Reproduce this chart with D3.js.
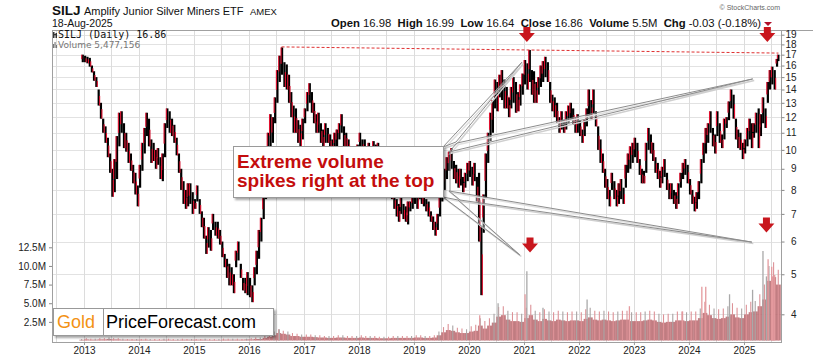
<!DOCTYPE html>
<html>
<head>
<meta charset="utf-8">
<script src="https://cdn.jsdelivr.net/npm/d3@7/dist/d3.min.js"></script>
<style>
  body { margin: 0; background: #fff; }
  svg { display: block; font-family: "Liberation Sans", Arial, sans-serif; }
</style>
</head>
<body>
<div id="chart"></div>
<script>
// half-month price ranges, 16-Dec-2012 .. 18-Aug-2025
// (two entries per month: 1st-15th, 16th-end)
const priceHigh = [
  17.0,
  16.9,16.8, 16.7,16.0, 15.5,15.0, 14.0,13.0, 11.9,11.4, 10.7,9.8, 9.0,9.5, 10.8,12.3, 12.4,11.6, 11.0,10.4, 9.8,9.2, 8.8,8.2,      // 2013
  9.2,10.4, 11.3,12.3, 11.9,10.6, 10.4,10.0, 10.1,9.6, 9.8,11.6, 12.6,12.4, 11.9,11.5, 10.7,9.8, 9.0,8.4, 8.0,8.3, 8.3,7.9,        // 2014
  7.6,8.2, 7.6,7.1, 6.85,6.2, 6.5,6.4, 7.0,6.7, 6.7,6.4, 6.0,5.6, 5.45,5.3, 5.2,5.0, 5.7,6.0, 5.3,4.9, 4.9,5.06,                   // 2015
  4.9,4.7, 5.2,5.7, 6.4,6.85, 7.8,9.8, 11.0,12.2, 12.0,13.4, 15.6,16.9, 17.7,16.3, 16.1,15.2, 13.8,12.8, 12.6,11.8, 11.5,11.9,     // 2016
  12.6,13.8, 14.5,13.8, 13.0,12.2, 12.3,11.6, 11.2,11.6, 11.3,10.9, 10.6,11.0, 11.2,11.6, 12.2,11.4, 11.0,10.6, 10.0,9.8, 9.6,10.3, // 2017
  11.0,10.6, 10.6,10.2, 10.4,10.2, 10.5,10.3, 10.4,10.0, 10.0,9.6, 9.3,8.9, 8.4,7.8, 7.6,7.4, 7.7,7.4, 7.3,7.5, 7.5,7.8,          // 2018
  8.2,8.0, 8.3,7.9, 8.0,7.6, 7.5,7.1, 6.9,6.7, 7.0,7.8, 8.4,9.0, 9.6,9.9, 10.1,9.4, 9.2,9.0, 9.0,8.6, 8.8,9.3,                    // 2019
  9.4,9.1, 9.3,8.6, 8.8,6.5, 7.8,9.8, 11.0,12.3, 13.2,14.8, 14.6,15.2, 15.6,14.8, 14.2,13.4, 14.2,15.0, 14.6,13.8, 14.4,15.3,      // 2020
  16.5,16.2, 17.45,15.6, 15.5,14.6, 15.0,16.0, 16.4,16.8, 16.3,14.6, 13.6,13.4, 13.0,12.0, 12.4,11.8, 12.4,12.8, 13.0,12.6, 12.0,12.2, // 2021
  11.8,11.2, 11.8,12.6, 14.0,13.2, 14.0,12.4, 11.4,10.6, 9.8,9.0, 8.5,8.0, 8.8,8.4, 8.0,8.3, 8.5,8.1, 9.2,9.8, 10.2,10.4,          // 2022
  10.7,10.4, 9.5,9.0, 8.9,10.4, 11.3,10.9, 10.4,9.6, 9.3,8.9, 9.1,9.5, 8.8,8.3, 8.3,8.0, 7.9,8.3, 8.8,9.3, 9.5,9.2,               // 2023
  8.5,8.0, 7.7,7.9, 8.4,9.5, 10.4,11.3, 11.6,12.4, 11.3,10.9, 12.4,11.6, 10.9,11.9, 12.0,13.1, 14.0,13.6, 11.9,11.2, 11.0,10.4,   // 2024
  10.6,11.3, 11.9,11.6, 11.6,12.3, 12.6,12.2, 13.4,12.6, 14.6,15.6, 15.9,15.6, 16.6,17.0                                         // 2025
];
const priceLow = [
  16.3,
  16.3,16.2, 15.9,15.4, 14.7,14.2, 12.8,11.9, 11.0,10.4, 9.6,8.8, 7.7,7.9, 8.5,10.2, 11.0,10.1, 9.9,9.3, 8.9,8.3, 7.8,7.3,        // 2013
  8.1,8.9, 9.8,10.8, 10.2,9.3, 9.4,9.0, 9.2,8.5, 8.4,9.6, 11.3,11.0, 10.8,10.4, 9.7,8.8, 8.0,7.4, 7.2,7.3, 7.4,7.0,               // 2014
  7.2,7.5, 7.0,6.5, 6.1,5.6, 5.8,5.7, 6.4,6.2, 6.1,5.9, 5.5,5.2, 4.9,4.7, 4.7,4.5, 5.2,5.4, 4.9,4.57, 4.5,4.45,                    // 2015
  4.4,4.28, 4.7,5.0, 5.45,6.0, 6.8,7.6, 9.3,10.0, 10.4,11.6, 13.0,14.6, 15.2,14.2, 14.0,13.0, 12.0,11.0, 11.0,10.4, 10.2,10.6,     // 2016
  11.6,12.4, 13.0,12.3, 11.6,11.0, 11.0,10.4, 10.1,10.4, 10.4,10.0, 9.8,10.0, 10.2,10.6, 11.0,10.1, 10.2,9.9, 9.4,9.2, 9.1,9.4,     // 2017
  10.1,9.9, 9.6,9.5, 9.6,9.5, 9.7,9.6, 9.6,9.4, 9.4,9.0, 8.7,8.3, 7.6,7.2, 6.9,6.7, 7.0,6.8, 6.7,6.6, 7.1,7.2,                   // 2018
  7.4,7.2, 7.6,7.4, 7.3,7.1, 6.9,6.7, 6.4,6.2, 6.4,6.9, 7.5,8.0, 8.5,8.9, 9.0,8.5, 8.3,8.1, 8.2,7.9, 8.1,8.4,                    // 2019
  8.6,8.2, 8.4,7.5, 6.0,4.45, 6.3,7.6, 9.3,10.5, 11.0,12.6, 12.4,13.4, 13.2,12.6, 12.6,12.0, 12.6,13.0, 12.3,12.4, 12.8,13.6,      // 2020
  14.4,14.0, 14.6,13.6, 13.0,13.0, 13.6,14.2, 14.6,15.0, 14.6,13.0, 12.4,12.0, 11.6,11.0, 11.2,11.0, 11.2,11.6, 11.8,11.5, 11.0,11.0, // 2021
  10.8,10.4, 10.8,11.4, 12.0,11.9, 12.2,11.4, 10.0,9.3, 8.8,8.1, 7.6,7.3, 8.0,7.6, 7.3,7.4, 7.6,7.4, 8.1,8.8, 9.0,9.3,            // 2022
  9.6,9.3, 8.7,8.3, 8.3,8.8, 10.0,9.8, 9.4,8.8, 8.5,8.1, 8.3,8.6, 8.0,7.6, 7.6,7.4, 7.2,7.4, 8.1,8.5, 8.7,8.3,                    // 2023
  7.8,7.4, 7.1,7.2, 7.6,8.3, 9.3,9.8, 10.4,11.0, 10.2,9.8, 10.8,10.4, 10.1,10.6, 11.3,11.8, 12.6,11.9, 10.6,10.1, 10.0,9.5,       // 2024
  9.8,10.2, 10.6,10.1, 10.7,11.0, 10.1,10.8, 11.6,11.3, 13.0,14.0, 14.4,14.0, 15.9,16.4                                          // 2025
];
// typical daily volume per month and the taller days of each month, millions (Dec 2012 .. Aug 2025)
const volume = [
  0.1,
  0.15,0.12,0.12,0.15,0.15,0.2,0.15,0.15,0.12,0.12,0.12,0.12,
  0.12,0.12,0.1,0.1,0.1,0.12,0.12,0.1,0.1,0.12,0.12,0.12,
  0.12,0.12,0.12,0.1,0.1,0.1,0.12,0.12,0.12,0.12,0.12,0.15,
  0.15,0.2,0.2,0.35,0.5,0.7,1.0,0.9,0.8,0.6,0.6,0.5,
  0.5,0.5,0.45,0.4,0.4,0.35,0.35,0.4,0.4,0.35,0.35,0.35,
  0.4,0.35,0.35,0.35,0.3,0.3,0.3,0.35,0.35,0.35,0.35,0.35,
  0.4,0.4,0.35,0.35,0.4,0.7,1.1,1.4,1.3,1.1,1.0,1.0,
  1.2,1.3,2.0,1.6,2.0,2.4,3.2,3.4,2.8,2.6,2.6,2.5,
  3.0,3.4,2.8,2.6,2.9,2.7,2.6,2.8,2.7,2.6,2.7,2.7,
  2.6,2.9,3.1,2.8,2.7,2.8,2.7,2.6,2.7,2.8,2.8,2.6,
  2.6,2.6,2.7,2.8,2.7,2.5,2.4,2.5,2.5,2.7,2.7,2.6,
  2.7,2.7,3.0,3.7,3.4,3.0,2.9,3.0,3.2,3.5,3.1,3.0,
  3.5,3.8,3.9,4.6,5.5,8.0,8.5,7.5
];
const volumeTall = [
  0.2,
  0.3,0.25,0.25,0.3,0.3,0.4,0.3,0.3,0.25,0.2,0.2,0.2,
  0.2,0.25,0.2,0.2,0.2,0.25,0.25,0.2,0.2,0.25,0.2,0.2,
  0.2,0.2,0.25,0.2,0.2,0.2,0.25,0.25,0.25,0.25,0.2,0.25,
  0.3,0.4,0.4,0.7,0.9,1.2,1.5,1.3,1.2,1.0,0.9,0.8,
  0.8,0.8,0.7,0.7,0.6,0.6,0.6,0.7,0.7,0.6,0.6,0.6,
  0.7,0.6,0.6,0.6,0.5,0.5,0.5,0.6,0.6,0.6,0.6,0.6,
  0.7,0.7,0.6,0.6,0.7,1.2,1.8,2.2,2.0,1.7,1.6,1.5,
  1.9,2.1,3.0,2.6,3.0,3.6,4.5,4.6,4.0,3.8,3.8,3.6,
  4.4,4.8,4.0,3.8,4.2,3.9,3.8,4.0,3.9,3.8,3.9,3.9,
  3.8,4.2,4.4,4.0,3.9,4.0,3.9,3.8,3.9,4.0,4.0,3.8,
  3.8,3.8,3.9,4.0,3.9,3.6,3.5,3.6,3.6,3.9,3.9,3.8,
  3.9,3.9,4.3,5.2,4.8,4.3,4.2,4.3,4.6,5.0,4.4,4.3,
  4.8,5.2,5.3,6.2,7.5,10.0,10.5,9.5
];
// single-day volume spikes that stand out: date, millions, up day
const volSpikes = [
  ["2016-07-21", 1.5, true], ["2020-03-13", 3.4, false], ["2020-07-13", 5.0, true],
  ["2021-01-08", 6.2, false], ["2021-01-20", 9.3, true], ["2021-05-07", 4.4, true],
  ["2022-02-24", 5.5, true], ["2022-12-02", 4.6, false], ["2023-11-20", 3.9, false],
  ["2024-03-27", 7.2, false], ["2024-04-22", 7.2, false], ["2024-09-27", 6.2, true],
  ["2025-02-27", 6.8, true], ["2025-05-07", 12.0, true], ["2025-05-30", 8.6, true],
  ["2025-06-10", 10.9, false], ["2025-07-04", 9.9, false], ["2025-07-10", 8.6, false],
  ["2025-07-24", 8.8, false]
];
const priceTicks = [4, 5, 6, 7, 8, 9, 10, 11, 12, 13, 14, 15, 16, 17, 18, 19];
const volTicks = [2.5, 5, 7.5, 10, 12.5];
const yearLabels = ["2013", "2014", "2015", "2016", "2017", "2018", "2019",
                    "2020", "2021", "2022", "2023", "2024", "2025"];
const resistance = [["2016-08-05", 17.75], ["2025-08-18", 17.15]];
const arrowsPrice = [["2021-01-20", 18.25], ["2025-06-05", 18.25]];
const arrowsVol = [["2021-02-10", 11.8], ["2025-05-30", 14.5]];
const pointerPrice = [["2020-12-18", 16.3], ["2025-02-28", 14.85]];
const pointerVol = [["2020-12-04", 11.47], ["2025-02-22", 13.2]];

const parse = d3.timeParse("%Y-%m-%d");
const W = 813, H = 358;
const plot = {left: 52, right: 781, top: 30, bottom: 342};

const x = d3.scaleTime()
    .domain([new Date(2013, 0, 1), new Date(2025, 0, 1)])
    .range([84, 744]);
const y = d3.scaleLog().domain([4, 19]).range([314.3, 34.7]);
const yv = d3.scaleLinear().domain([0, 12.5]).range([340.5, 247.3]);

// half-month periods
const monthStarts = d3.timeMonth.range(new Date(2013, 0, 1), new Date(2025, 8, 1));
const periodStarts = [new Date(2012, 11, 16)]
    .concat(monthStarts.flatMap(m => [m, new Date(m.getFullYear(), m.getMonth(), 16)]));
const lastDay = new Date(2025, 7, 19);
const periods = periodStarts.map((s, i) => ({
    start: s,
    end: periodStarts[i + 1] || lastDay,
    hi: priceHigh[i],
    lo: priceLow[i]
}));
periods.forEach((p, i) => {
    const prev = i ? periods[i - 1] : p;
    p.down = (p.hi + p.lo) < (prev.hi + prev.lo);
});

const months = d3.timeMonth.range(new Date(2012, 11, 1), new Date(2025, 8, 1));
const volBars = months.map((m, i) => ({
    start: m,
    end: d3.timeMonth.offset(m, 1),
    vol: volume[i],
    tall: volumeTall[i],
    down: i % 3 !== 0
}));

const svg = d3.select("#chart").append("svg")
    .attr("width", W)
    .attr("height", H);

const defs = svg.append("defs");
defs.append("clipPath").attr("id", "clip")
  .append("rect")
    .attr("x", plot.left).attr("y", plot.top)
    .attr("width", plot.right - plot.left).attr("height", plot.bottom - plot.top);
const shadow = defs.append("filter").attr("id", "shadow")
    .attr("x", "-10%").attr("y", "-20%").attr("width", "130%").attr("height", "160%");
shadow.append("feDropShadow")
    .attr("dx", 2).attr("dy", 2).attr("stdDeviation", 1.2)
    .attr("flood-color", "#000").attr("flood-opacity", 0.35);

// grid
const grid = svg.append("g").attr("clip-path", "url(#clip)");
grid.selectAll(".hgrid")
  .data(priceTicks)
  .join("line")
    .attr("x1", plot.left).attr("x2", plot.right)
    .attr("y1", d => Math.round(y(d)) + 0.5).attr("y2", d => Math.round(y(d)) + 0.5)
    .attr("stroke", "#e2e2e2");
grid.selectAll(".vgrid")
  .data(d3.timeMonth.every(6).range(new Date(2012, 5, 1), new Date(2025, 8, 1)))
  .join("line")
    .attr("x1", d => Math.round(x(d)) + 0.5).attr("x2", d => Math.round(x(d)) + 0.5)
    .attr("y1", plot.top).attr("y2", plot.bottom)
    .attr("stroke", "#dcdcdc");

// volume
const vol = svg.append("g").attr("clip-path", "url(#clip)");
vol.selectAll(".vb")
  .data(volBars)
  .join("rect")
    .attr("x", d => x(d.start))
    .attr("width", d => x(d.end) - x(d.start) + 0.2)
    .attr("y", d => yv(d.vol))
    .attr("height", d => yv(0) - yv(d.vol))
    .attr("fill", "#b8686e")
    .attr("opacity", 0.85);
vol.selectAll(".vt")
  .data(volBars)
  .join("line")
    .attr("x1", d => (x(d.start) + x(d.end)) / 2).attr("x2", d => (x(d.start) + x(d.end)) / 2)
    .attr("y1", yv(0)).attr("y2", d => yv(d.tall))
    .attr("stroke", d => d.down ? "#dd9297" : "#aaa4a4")
    .attr("stroke-width", 1.1);
vol.selectAll(".vs")
  .data(volSpikes)
  .join("line")
    .attr("x1", d => x(parse(d[0]))).attr("x2", d => x(parse(d[0])))
    .attr("y1", yv(0)).attr("y2", d => yv(d[1]))
    .attr("stroke", d => d[2] ? "#a9a9a9" : "#e49a9e")
    .attr("stroke-width", 1.3);

// price bars
const price = svg.append("g").attr("clip-path", "url(#clip)");
price.selectAll(".pb")
  .data(periods)
  .join("rect")
    .attr("x", d => (x(d.start) + x(d.end)) / 2 - 1.1)
    .attr("width", 2.2)
    .attr("y", d => y(d.hi))
    .attr("height", d => y(d.lo) - y(d.hi))
    .attr("fill", "#000");
price.selectAll(".pr")
  .data(periods)
  .join("rect")
    .attr("x", d => (x(d.start) + x(d.end)) / 2 + (d.down ? 0.4 : -1.6))
    .attr("width", 1.1)
    .attr("y", d => y(d.hi) + (y(d.lo) - y(d.hi)) * (d.down ? 0.4 : 0.0))
    .attr("height", d => (y(d.lo) - y(d.hi)) * 0.6)
    .attr("fill", "#e0102f");

// resistance line
svg.append("line")
    .attr("x1", x(parse(resistance[0][0]))).attr("y1", y(resistance[0][1]))
    .attr("x2", x(parse(resistance[1][0]))).attr("y2", y(resistance[1][1]))
    .attr("stroke", "#e03030")
    .attr("stroke-width", 1)
    .attr("stroke-dasharray", "3,2");

// frame
svg.append("rect")
    .attr("x", plot.left + 0.5).attr("y", plot.top + 0.5)
    .attr("width", plot.right - plot.left).attr("height", plot.bottom - plot.top)
    .attr("fill", "none").attr("stroke", "#a0a0a0");
svg.append("line")
    .attr("x1", plot.right).attr("x2", W).attr("y1", plot.top + 0.5).attr("y2", plot.top + 0.5)
    .attr("stroke", "#a0a0a0");

// axes
const yAxis = svg.append("g")
    .attr("transform", `translate(${plot.right + 0.5},0)`)
    .call(d3.axisRight(y).tickValues(priceTicks).tickFormat(d3.format("d")).tickSize(3));
yAxis.select(".domain").remove();
yAxis.selectAll("text")
    .attr("x", 15).attr("text-anchor", "end")
    .attr("font-size", 10).attr("fill", "#222")
    .attr("font-family", "Liberation Sans, Arial, sans-serif");
yAxis.selectAll("line").attr("stroke", "#888");

const vAxis = svg.append("g")
    .attr("transform", `translate(${plot.left},0)`)
    .call(d3.axisLeft(yv).tickValues(volTicks).tickFormat(d => d.toFixed(1) + "M").tickSize(3));
vAxis.select(".domain").remove();
vAxis.selectAll("text")
    .attr("font-size", 10).attr("fill", "#222")
    .attr("font-family", "Liberation Sans, Arial, sans-serif");
vAxis.selectAll("line").attr("stroke", "#888");

const xAxis = svg.append("g")
    .attr("transform", `translate(0,${plot.bottom})`)
    .call(d3.axisBottom(x)
        .tickValues(yearLabels.map(d => new Date(+d, 0, 1)))
        .tickFormat(d3.timeFormat("%Y"))
        .tickSize(3).tickPadding(2));
xAxis.select(".domain").remove();
xAxis.selectAll("text")
    .attr("font-size", 10).attr("fill", "#222")
    .attr("font-family", "Liberation Sans, Arial, sans-serif");
xAxis.selectAll("line").attr("stroke", "#999");

// callout pointers
const wedges = [
    [[443, 147], [x(parse(pointerPrice[0][0])), y(pointerPrice[0][1])], [456, 142]],
    [[457, 143], [x(parse(pointerPrice[1][0])), y(pointerPrice[1][1])], [449, 152]],
    [[449, 191], [x(parse(pointerVol[1][0])), yv(pointerVol[1][1])], [460, 200]],
    [[443, 197], [x(parse(pointerVol[0][0])), yv(pointerVol[0][1])], [458, 200]]
];
const callout = svg.append("g");
callout.selectAll(".wshadow")
  .data(wedges)
  .join("polygon")
    .attr("points", d => d.map(p => [p[0] + 1.5, p[1] + 1.5].join(",")).join(" "))
    .attr("fill", "none").attr("stroke", "#cfcfcf").attr("stroke-width", 1.5);
callout.selectAll(".wedge")
  .data(wedges)
  .join("polygon")
    .attr("points", d => d.map(p => p.join(",")).join(" "))
    .attr("fill", "#fff").attr("fill-opacity", 0.35)
    .attr("stroke", "#8c8c8c").attr("stroke-width", 1);
callout.append("line")
    .attr("x1", 450).attr("x2", 450).attr("y1", 152).attr("y2", 191)
    .attr("stroke", "#8c8c8c");
callout.append("rect")
    .attr("x", 233.5).attr("y", 146.5).attr("width", 210).attr("height", 51)
    .attr("fill", "#fff").attr("stroke", "#9a9a9a")
    .attr("filter", "url(#shadow)");
callout.append("text")
    .attr("x", 237).attr("y", 168)
    .attr("font-size", 19).attr("font-weight", "bold").attr("fill", "#c40d0d")
    .text("Extreme volume");
callout.append("text")
    .attr("x", 237).attr("y", 187)
    .attr("font-size", 19).attr("font-weight", "bold").attr("fill", "#c40d0d")
    .text("spikes right at the top");

// arrows
function arrowPath(cx, tip) {
    return `M${cx - 3.5},${tip - 15} h7 v6 h4.5 L${cx},${tip} L${cx - 8},${tip - 9} h4.5 Z`;
}
svg.selectAll(".arrow")
  .data(arrowsPrice.map(d => [x(parse(d[0])), y(d[1])])
        .concat(arrowsVol.map(d => [x(parse(d[0])), yv(d[1])])))
  .join("path")
    .attr("d", d => arrowPath(d[0], d[1]))
    .attr("fill", "#c8161d");

// logo
const logo = svg.append("g");
logo.append("rect")
    .attr("x", 53.5).attr("y", 308.5).attr("width", 220).attr("height", 27)
    .attr("fill", "#fff").attr("stroke", "#999").attr("filter", "url(#shadow)");
logo.append("line")
    .attr("x1", 103.5).attr("x2", 103.5).attr("y1", 308.5).attr("y2", 335.5)
    .attr("stroke", "#999");
logo.append("text")
    .attr("x", 57).attr("y", 328).attr("font-size", 18).attr("fill", "#f39214")
    .text("Gold");
logo.append("text")
    .attr("x", 106).attr("y", 328).attr("font-size", 18).attr("fill", "#000")
    .text("PriceForecast.com");

// header
const head = svg.append("g");
head.append("text").attr("x", 52).attr("y", 14.5)
    .attr("font-size", 13.5).attr("font-weight", "bold").attr("fill", "#111").text("SILJ");
head.append("text").attr("x", 84).attr("y", 14.5)
    .attr("font-size", 11).attr("fill", "#111").text("Amplify Junior Silver Miners ETF");
head.append("text").attr("x", 250).attr("y", 14.5)
    .attr("font-size", 9.5).attr("fill", "#111").text("AMEX");
head.append("text").attr("x", 52).attr("y", 27)
    .attr("font-size", 10.5).attr("fill", "#111").text("18-Aug-2025");
head.append("text").attr("x", 780).attr("y", 10).attr("text-anchor", "end")
    .attr("font-size", 7).attr("fill", "#666").text("\u00a9 StockCharts.com");

const quote = [["Open", "16.98"], ["High", "16.99"], ["Low", "16.64"],
               ["Close", "16.86"], ["Volume", "5.5M"], ["Chg", "-0.03 (-0.18%)"]];
const qt = head.append("text").attr("x", 761).attr("y", 27)
    .attr("text-anchor", "end").attr("font-size", 11.3).attr("fill", "#111")
    .attr("xml:space", "preserve");
quote.forEach((q, i) => {
    qt.append("tspan").attr("font-weight", "bold").text((i ? "  " : "") + q[0] + " ");
    qt.append("tspan").text(q[1]);
});
head.append("path")
    .attr("d", "M764,22 h8 l-4,4 Z")
    .attr("fill", "#b0102a");

// legend
const leg = svg.append("g");
leg.append("rect").attr("x", 53).attr("y", 32).attr("width", 1.5).attr("height", 6).attr("fill", "#333");
leg.append("rect").attr("x", 55.5).attr("y", 33).attr("width", 1.5).attr("height", 5).attr("fill", "#333");
leg.append("rect").attr("x", 53).attr("y", 34).attr("width", 4).attr("height", 1.2).attr("fill", "#333");
leg.append("text").attr("x", 58).attr("y", 38)
    .attr("font-family", "DejaVu Sans Mono, monospace").attr("font-size", 10)
    .attr("fill", "#111").text("SILJ (Daily) 16.86");
[[53, 44, 4], [54.5, 42, 6], [56, 45, 3]].forEach(b => {
    leg.append("rect").attr("x", b[0]).attr("y", b[1]).attr("width", 1.1).attr("height", b[2]).attr("fill", "#777");
});
leg.append("text").attr("x", 58).attr("y", 48)
    .attr("font-family", "DejaVu Sans, sans-serif").attr("font-size", 9)
    .attr("fill", "#777").text("Volume 5,477,156");
</script>
</body>
</html>
